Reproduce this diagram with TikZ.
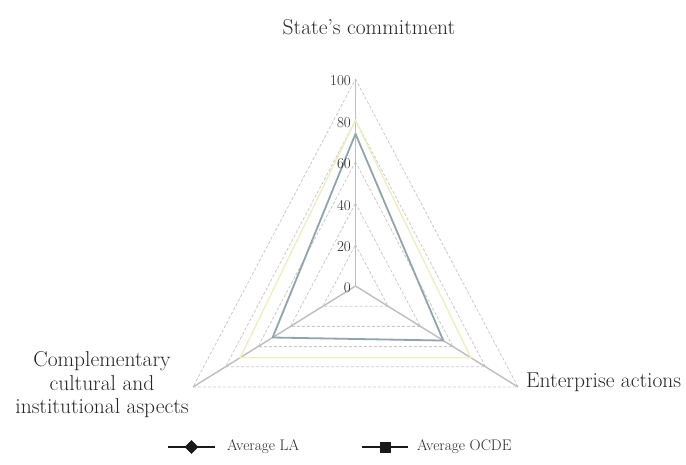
\documentclass[tikz,border=0pt]{standalone}
\usetikzlibrary{calc,shapes.geometric}
\definecolor{gridc}{HTML}{C9C9C9}
\definecolor{axisc}{HTML}{BDBDBD}
\definecolor{ocde}{HTML}{92A4AA}
\definecolor{lac}{HTML}{ECEEC6}
\tikzset{
  gridline/.style={gridc, line width=0.8pt, dash pattern=on 3pt off 2pt},
  axisline/.style={axisc, line width=1.4pt},
  tick/.style={anchor=east, inner sep=0pt, font=\fontsize{15}{15}\selectfont, text=black!85},
  catlabel/.style={inner sep=0pt, font=\fontsize{21.5}{23.5}\selectfont, text=black!85},
  legtext/.style={anchor=west, inner sep=0pt, font=\fontsize{15.3}{15.3}\selectfont, text=black!85},
  legline/.style={black!90, line width=2.4pt},
}
\begin{document}
\begin{tikzpicture}[x=1pt,y=-1pt]
\useasboundingbox (0,0) rectangle (686,465);
\coordinate (C) at (355.5,286);
\coordinate (T) at (355.5,79);
\coordinate (L) at (193,387);
\coordinate (R) at (518,387);
% dashed grid
\foreach \f in {0.2,0.4,0.6,0.8,1.0}{
  \draw[gridline] ($(C)!\f!(T)$) -- ($(C)!\f!(R)$) -- ($(C)!\f!(L)$) -- cycle;
}
% axes
\draw[axisline] (C) -- (T);
\draw[axisline] (C) -- (L);
\draw[axisline] (C) -- (R);
% series
\draw[lac, line width=1.4pt] ($(C)!0.80!(T)$) -- ($(C)!0.71!(R)$) -- ($(C)!0.71!(L)$) -- cycle;
\draw[ocde, line width=1.8pt, line join=round] ($(C)!0.735!(T)$) -- ($(C)!0.54!(R)$) -- ($(C)!0.51!(L)$) -- cycle;
% tick labels
\foreach \v/\f in {0/0,20/0.2,40/0.4,60/0.6,80/0.8,100/1.0}{
  \node[tick] (t\v) at ($(C)!\f!(T) + (-4.5,2)$) {\v};
}
% category labels
\node[catlabel, anchor=base] (lstate) at (369,35) {State's commitment};
\node[catlabel, anchor=base west] (lent) at (526,387) {Enterprise actions};
\node[catlabel, align=center] (lcomp) at (102,385) {Complementary\\cultural and\\institutional aspects};
% legend
\coordinate (la1) at (168,447); \coordinate (la2) at (215,447);
\draw[legline] (la1) -- (la2);
\node[diamond, fill=black!90, inner sep=0pt, minimum width=14pt, minimum height=14pt] (lam) at ($(la1)!0.5!(la2)$) {};
\node[legtext] (lat) at (227,447) {Average LA};
\coordinate (oc1) at (362,447); \coordinate (oc2) at (408,447);
\draw[legline] (oc1) -- (oc2);
\node[rectangle, fill=black!90, inner sep=0pt, minimum width=11pt, minimum height=11pt] (ocm) at ($(oc1)!0.5!(oc2)$) {};
\node[legtext] (oct) at (417,447) {Average OCDE};
\end{tikzpicture}
\end{document}
